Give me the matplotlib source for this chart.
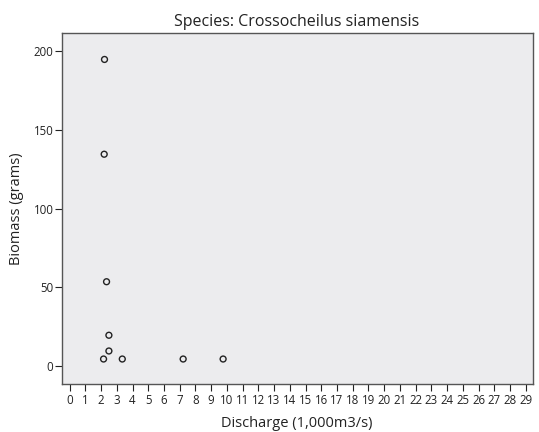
import matplotlib.pyplot as plt

discharge = [2.22, 2.2, 2.35, 2.5, 2.5, 2.16, 3.35, 7.22, 9.76]
biomass = [194.7, 134.5, 53.5, 19.5, 9.5, 4.4, 4.4, 4.4, 4.4]
x_ticks = list(range(0, 30))
y_ticks = [0, 50, 100, 150, 200]

plt.rcParams['font.family'] = ['Open Sans', 'DejaVu Sans']

fig = plt.figure(figsize=(5.39, 4.32), dpi=100)
ax = fig.add_axes([0.1145, 0.111, 0.8735, 0.8126])
ax.set_facecolor('#ececee')
for s in ax.spines.values():
    s.set_color('#555555')
    s.set_linewidth(1.0)

ax.scatter(discharge, biomass, s=18, facecolors='none', edgecolors='#222222', linewidths=1.0, zorder=3)

ax.set_xlim(-0.5, 29.43)
ax.set_ylim(-11.5, 211.5)
ax.set_xticks(x_ticks)
ax.set_yticks(y_ticks)
ax.tick_params(axis='both', labelsize=8.3, colors='#222222', length=5, width=0.8, pad=1)
ax.tick_params(axis='x', pad=2.5)

ax.set_title('Species: Crossocheilus siamensis', fontsize=11.5, color='#222222', pad=5)
ax.set_xlabel('Discharge (1,000m3/s)', fontsize=10.5, color='#222222', labelpad=6)
ax.set_ylabel('Biomass (grams)', fontsize=10.5, color='#222222', labelpad=7)

fig.savefig('out.png', dpi=100)
